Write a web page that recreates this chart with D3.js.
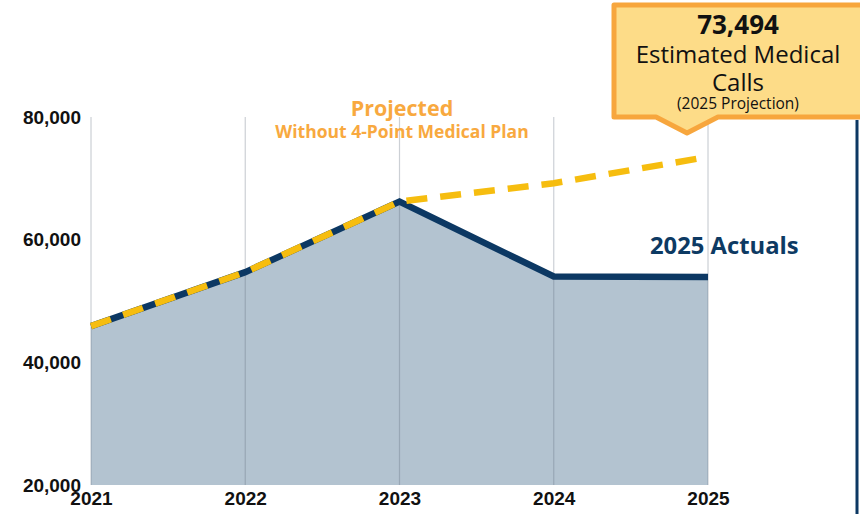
<!DOCTYPE html>
<html>
<head>
<meta charset="utf-8">
<script src="https://cdn.jsdelivr.net/npm/d3@7/dist/d3.min.js"></script>
<style>
  html, body { margin: 0; padding: 0; background: #fff; }
  svg { display: block; }
</style>
</head>
<body>
<svg id="chart" width="860" height="514"></svg>
<script>
// Medical call volume by year
const years = [2021, 2022, 2023, 2024, 2025];
const actualCalls = [45900, 54700, 66200, 54000, 53900];
const projectedCalls = [45900, 54700, 66200, 69200, 73494];
const yTicks = [20000, 40000, 60000, 80000];

const svg = d3.select("#chart");
const W = 860, H = 514;

const x = d3.scalePoint().domain(years).range([91, 708]);
const y = d3.scaleLinear().domain([20000, 80000]).range([485, 117]);

const fmt = d3.format(",");

// Shaded area under the actual series
const area = d3.area()
  .x((d, i) => x(years[i]))
  .y0(y(20000))
  .y1(d => y(d));

svg.append("path")
  .datum(actualCalls)
  .attr("d", area)
  .attr("fill", "#b3c3d0");

// Vertical year gridlines
svg.append("g")
  .selectAll("line")
  .data(years)
  .join("line")
  .attr("x1", d => x(d)).attr("x2", d => x(d))
  .attr("y1", y(80000)).attr("y2", y(20000))
  .attr("stroke", "rgba(95,110,125,0.32)")
  .attr("stroke-width", 1.2);

// Actual line
const line = d3.line()
  .x((d, i) => x(years[i]))
  .y(d => y(d));

svg.append("path")
  .datum(actualCalls)
  .attr("d", line)
  .attr("fill", "none")
  .attr("stroke", "#0c3863")
  .attr("stroke-width", 6.5)
  .attr("stroke-linejoin", "miter");

// Projected line (dashed)
svg.append("path")
  .datum(projectedCalls)
  .attr("d", line)
  .attr("fill", "none")
  .attr("stroke", "#f6bd0f")
  .attr("stroke-width", 6.5)
  .attr("stroke-dasharray", "21,13");

// Y axis labels
const yAxis = d3.axisLeft(y).tickValues(yTicks).tickFormat(fmt).tickSize(0).tickPadding(0);
const gy = svg.append("g").attr("transform", "translate(81,0)").call(yAxis);
gy.select(".domain").remove();
gy.selectAll("text")
  .attr("font-family", "Liberation Sans, Arial, sans-serif")
  .attr("font-weight", "bold")
  .attr("font-size", 19)
  .attr("fill", "#111");

// X axis labels
const xAxis = d3.axisBottom(x).tickFormat(d => String(d)).tickSize(0).tickPadding(0);
const gx = svg.append("g").attr("transform", "translate(0,491)").call(xAxis);
gx.select(".domain").remove();
gx.selectAll("text")
  .attr("font-family", "Liberation Sans, Arial, sans-serif")
  .attr("font-weight", "bold")
  .attr("font-size", 19)
  .attr("fill", "#111");

// Series labels
const projLabel = svg.append("text")
  .attr("text-anchor", "middle")
  .attr("font-family", "Open Sans, sans-serif")
  .attr("font-weight", "bold")
  .attr("fill", "#f8a93f");
projLabel.append("tspan")
  .attr("x", 402).attr("y", 116)
  .attr("font-size", 21.5)
  .text("Projected");
projLabel.append("tspan")
  .attr("x", 402).attr("y", 138)
  .attr("font-size", 17.5)
  .text("Without 4-Point Medical Plan");

svg.append("text")
  .attr("x", 650).attr("y", 254)
  .attr("font-family", "Open Sans, sans-serif")
  .attr("font-weight", "bold")
  .attr("font-size", 23.8)
  .attr("fill", "#0d3a63")
  .text("2025 Actuals");

// Right-hand divider
svg.append("line")
  .attr("x1", 857).attr("x2", 857)
  .attr("y1", 120).attr("y2", H)
  .attr("stroke", "#0c3863")
  .attr("stroke-width", 3);

// Callout for the 2025 projection
const px = x(2025) - 21;
const cl = 614, ct = 5, cr = 880, cb = 117;
const calloutPath = [
  [cl, ct], [cr, ct], [cr, cb], [px + 31, cb], [px, cb + 16], [px - 31, cb], [cl, cb]
];
svg.append("path")
  .attr("d", "M" + calloutPath.map(p => p.join(",")).join("L") + "Z")
  .attr("fill", "#fddc88")
  .attr("stroke", "#f7a63d")
  .attr("stroke-width", 5)
  .attr("stroke-linejoin", "round");

// Callout text block, one text element with a tspan per line
const cx = 738;
const callout = svg.append("text")
  .attr("text-anchor", "middle")
  .attr("font-family", "Open Sans, sans-serif")
  .attr("fill", "#111");
callout.append("tspan")
  .attr("x", cx).attr("y", 34)
  .attr("font-weight", "bold")
  .attr("font-size", 26)
  .text(fmt(projectedCalls[4]));
callout.append("tspan")
  .attr("x", cx).attr("y", 63)
  .attr("font-size", 24)
  .text("Estimated Medical");
callout.append("tspan")
  .attr("x", cx).attr("y", 91)
  .attr("font-size", 24)
  .text("Calls");
callout.append("tspan")
  .attr("x", cx).attr("y", 109)
  .attr("font-size", 15.5)
  .text("(2025 Projection)");
</script>
</body>
</html>
